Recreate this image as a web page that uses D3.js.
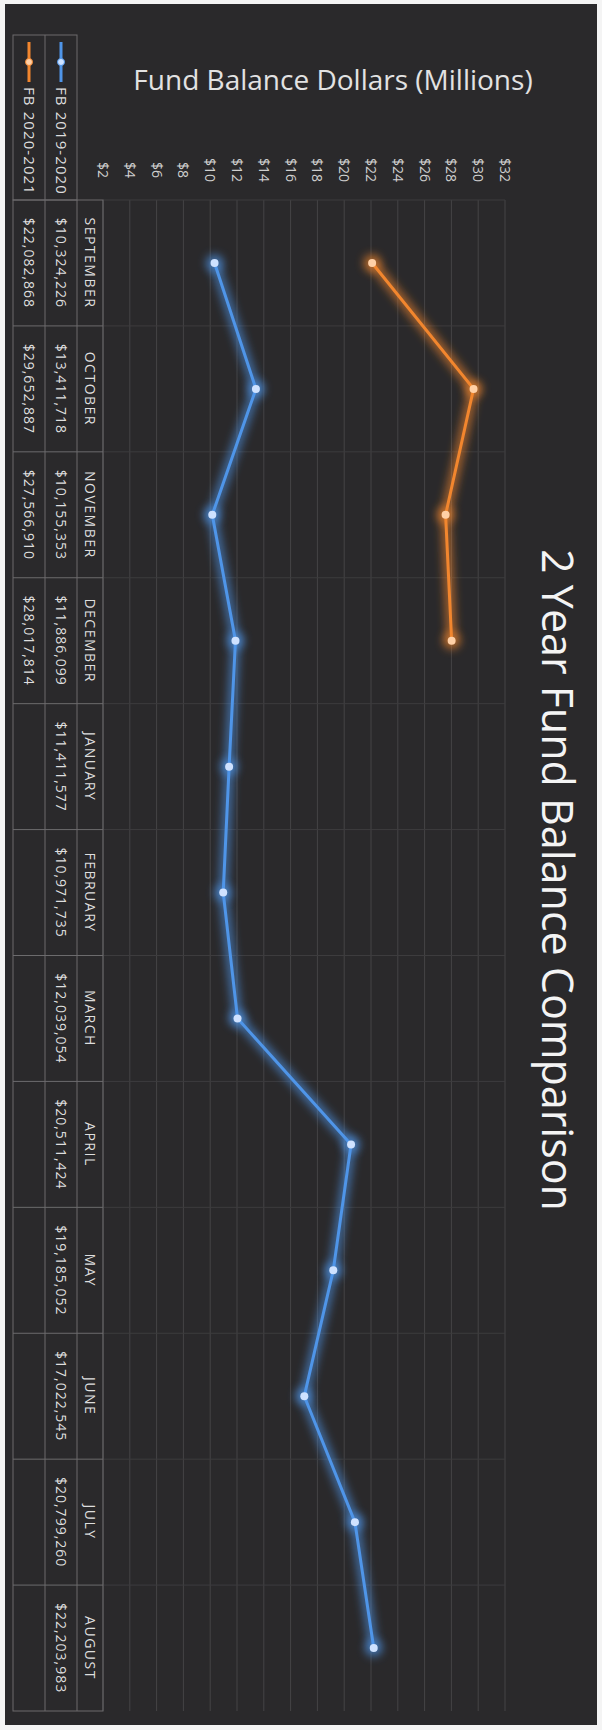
<!DOCTYPE html>
<html>
<head>
<meta charset="utf-8">
<script src="https://cdn.jsdelivr.net/npm/d3@7"></script>
<style>
  html, body { margin: 0; padding: 0; background: #f4f4f4; }
  svg { display: block; }
  text { font-family: "Open Sans", "DejaVu Sans", sans-serif; }
</style>
</head>
<body>
<div id="chart"></div>
<script>
// data
var months = ["SEPTEMBER", "OCTOBER", "NOVEMBER", "DECEMBER", "JANUARY", "FEBRUARY",
              "MARCH", "APRIL", "MAY", "JUNE", "JULY", "AUGUST"];
var fb1920 = [10324226, 13411718, 10155353, 11886099, 11411577, 10971735,
              12039054, 20511424, 19185052, 17022545, 20799260, 22203983];
var fb2021 = [22082868, 29652887, 27566910, 28017814];
var seriesNames = ["FB 2019-2020", "FB 2020-2021"];
var tickValues = [2, 4, 6, 8, 10, 12, 14, 16, 18, 20, 22, 24, 26, 28, 30, 32];

var svgWidth = 602;
var svgHeight = 1730;

// chart is drawn turned a quarter turn clockwise:
// values run left -> right, months run top -> bottom
var plot = { left: 103, right: 505, top: 200, bottom: 1711 };
var blue = "#4f95e8", orange = "#f2862e";

var svg = d3.select("#chart")
  .append("svg")
  .attr("width", svgWidth)
  .attr("height", svgHeight);

var defs = svg.append("defs");
var glow = defs.append("filter").attr("id", "glow")
  .attr("x", "-50%").attr("y", "-50%").attr("width", "200%").attr("height", "200%");
glow.append("feGaussianBlur").attr("stdDeviation", 4);

// background
svg.append("rect")
  .attr("x", 5).attr("y", 4)
  .attr("width", 592).attr("height", 1721)
  .attr("fill", "#2a292b");

var xScale = d3.scaleLinear().domain([2, 32]).range([plot.left, plot.right]);
var yScale = d3.scaleBand().domain(months).range([plot.top, plot.bottom]);
var bw = yScale.bandwidth();

// value gridlines
svg.append("g").selectAll("line")
  .data(tickValues)
  .enter()
  .append("line")
  .attr("x1", d => xScale(d)).attr("x2", d => xScale(d))
  .attr("y1", plot.top).attr("y2", plot.bottom)
  .attr("stroke", "#454446")
  .attr("stroke-width", 1);

// category separators
svg.append("g").selectAll("line")
  .data(months)
  .enter()
  .append("line")
  .attr("x1", plot.left).attr("x2", plot.right)
  .attr("y1", d => yScale(d)).attr("y2", d => yScale(d))
  .attr("stroke", "#3d3c3e")
  .attr("stroke-width", 1);

// tick labels (rotated)
svg.append("g").selectAll("text")
  .data(tickValues)
  .enter()
  .append("text")
  .attr("transform", d => `translate(${xScale(d)}, 170) rotate(90)`)
  .attr("text-anchor", "middle")
  .attr("dy", "0.35em")
  .attr("fill", "#d0d0d0")
  .attr("font-size", "14px")
  .text(d => "$" + d);

// axis title
svg.append("text")
  .attr("x", 333).attr("y", 90)
  .attr("text-anchor", "middle")
  .attr("fill", "#e2e2e2")
  .attr("font-size", "28px")
  .text("Fund Balance Dollars (Millions)");

// chart title
svg.append("text")
  .attr("transform", "translate(557, 880) rotate(90)")
  .attr("text-anchor", "middle")
  .attr("dy", "0.35em")
  .attr("fill", "#f4f4f4")
  .attr("font-size", "43px")
  .text("2 Year Fund Balance Comparison");

// series lines
var series = [
  { name: seriesNames[0], values: fb1920, color: blue, dot: "#cfe2ff" },
  { name: seriesNames[1], values: fb2021, color: orange, dot: "#ffd0a6" }
];

var line = d3.line()
  .x(d => xScale(d.v / 1e6))
  .y(d => yScale(d.m) + bw / 2);

series.forEach(function(s) {
  var pts = s.values.map((v, i) => ({ m: months[i], v: v }));
  var g = svg.append("g");
  g.append("path")
    .datum(pts)
    .attr("d", line)
    .attr("fill", "none")
    .attr("stroke", s.color)
    .attr("stroke-width", 10)
    .attr("stroke-opacity", 0.6)
    .attr("filter", "url(#glow)");
  g.selectAll(".halo")
    .data(pts)
    .enter()
    .append("circle")
    .attr("cx", d => xScale(d.v / 1e6))
    .attr("cy", d => yScale(d.m) + bw / 2)
    .attr("r", 9)
    .attr("fill", s.color)
    .attr("opacity", 0.6)
    .attr("filter", "url(#glow)");
  g.append("path")
    .datum(pts)
    .attr("d", line)
    .attr("fill", "none")
    .attr("stroke", s.color)
    .attr("stroke-width", 3);
  g.selectAll(".dot")
    .data(pts)
    .enter()
    .append("circle")
    .attr("cx", d => xScale(d.v / 1e6))
    .attr("cy", d => yScale(d.m) + bw / 2)
    .attr("r", 4)
    .attr("fill", s.dot);
});

// data table on the left
var tableColor = "#6c6b6d";
var cols = { orangeL: 13, blueL: 45, monthL: 77, right: 103 };
var table = svg.append("g");

// legend box
table.append("rect")
  .attr("x", cols.orangeL).attr("y", 35)
  .attr("width", cols.monthL - cols.orangeL).attr("height", plot.top - 35)
  .attr("fill", "none").attr("stroke", tableColor);
table.append("line")
  .attr("x1", cols.blueL).attr("x2", cols.blueL)
  .attr("y1", 35).attr("y2", plot.bottom)
  .attr("stroke", tableColor);

// table body
table.append("rect")
  .attr("x", cols.orangeL).attr("y", plot.top)
  .attr("width", cols.right - cols.orangeL).attr("height", plot.bottom - plot.top)
  .attr("fill", "none").attr("stroke", tableColor);
table.append("line")
  .attr("x1", cols.monthL).attr("x2", cols.monthL)
  .attr("y1", plot.top).attr("y2", plot.bottom)
  .attr("stroke", tableColor);
table.selectAll(".sep")
  .data(months.slice(1))
  .enter()
  .append("line")
  .attr("x1", cols.orangeL).attr("x2", cols.right)
  .attr("y1", d => yScale(d)).attr("y2", d => yScale(d))
  .attr("stroke", tableColor);

var fmt = d3.format("$,");
function vtext(x, y, str, size, spacing) {
  return table.append("text")
    .attr("transform", `translate(${x}, ${y}) rotate(90)`)
    .attr("text-anchor", "middle")
    .attr("dy", "0.35em")
    .attr("fill", "#dedede")
    .attr("font-size", size)
    .attr("letter-spacing", spacing)
    .text(str);
}

months.forEach(function(m, i) {
  var cy = yScale(m) + bw / 2;
  vtext((cols.monthL + cols.right) / 2, cy, m, "14px", "1.5px");
  vtext((cols.blueL + cols.monthL) / 2, cy, fmt(fb1920[i]), "14px", "1px");
  if (i < fb2021.length) {
    vtext((cols.orangeL + cols.blueL) / 2, cy, fmt(fb2021[i]), "14px", "1px");
  }
});

// legend keys
[{ x: (cols.blueL + cols.monthL) / 2, s: series[0] },
 { x: (cols.orangeL + cols.blueL) / 2, s: series[1] }].forEach(function(k) {
  table.append("line")
    .attr("x1", k.x).attr("x2", k.x)
    .attr("y1", 42).attr("y2", 82)
    .attr("stroke", k.s.color).attr("stroke-width", 3);
  table.append("circle")
    .attr("cx", k.x).attr("cy", 62).attr("r", 3.5)
    .attr("fill", k.s.dot).attr("stroke", k.s.color);
  table.append("text")
    .attr("transform", `translate(${k.x}, 87) rotate(90)`)
    .attr("dy", "0.35em")
    .attr("fill", "#dedede")
    .attr("font-size", "15px")
    .attr("letter-spacing", "1.1px")
    .text(k.s.name);
});
</script>
</body>
</html>
